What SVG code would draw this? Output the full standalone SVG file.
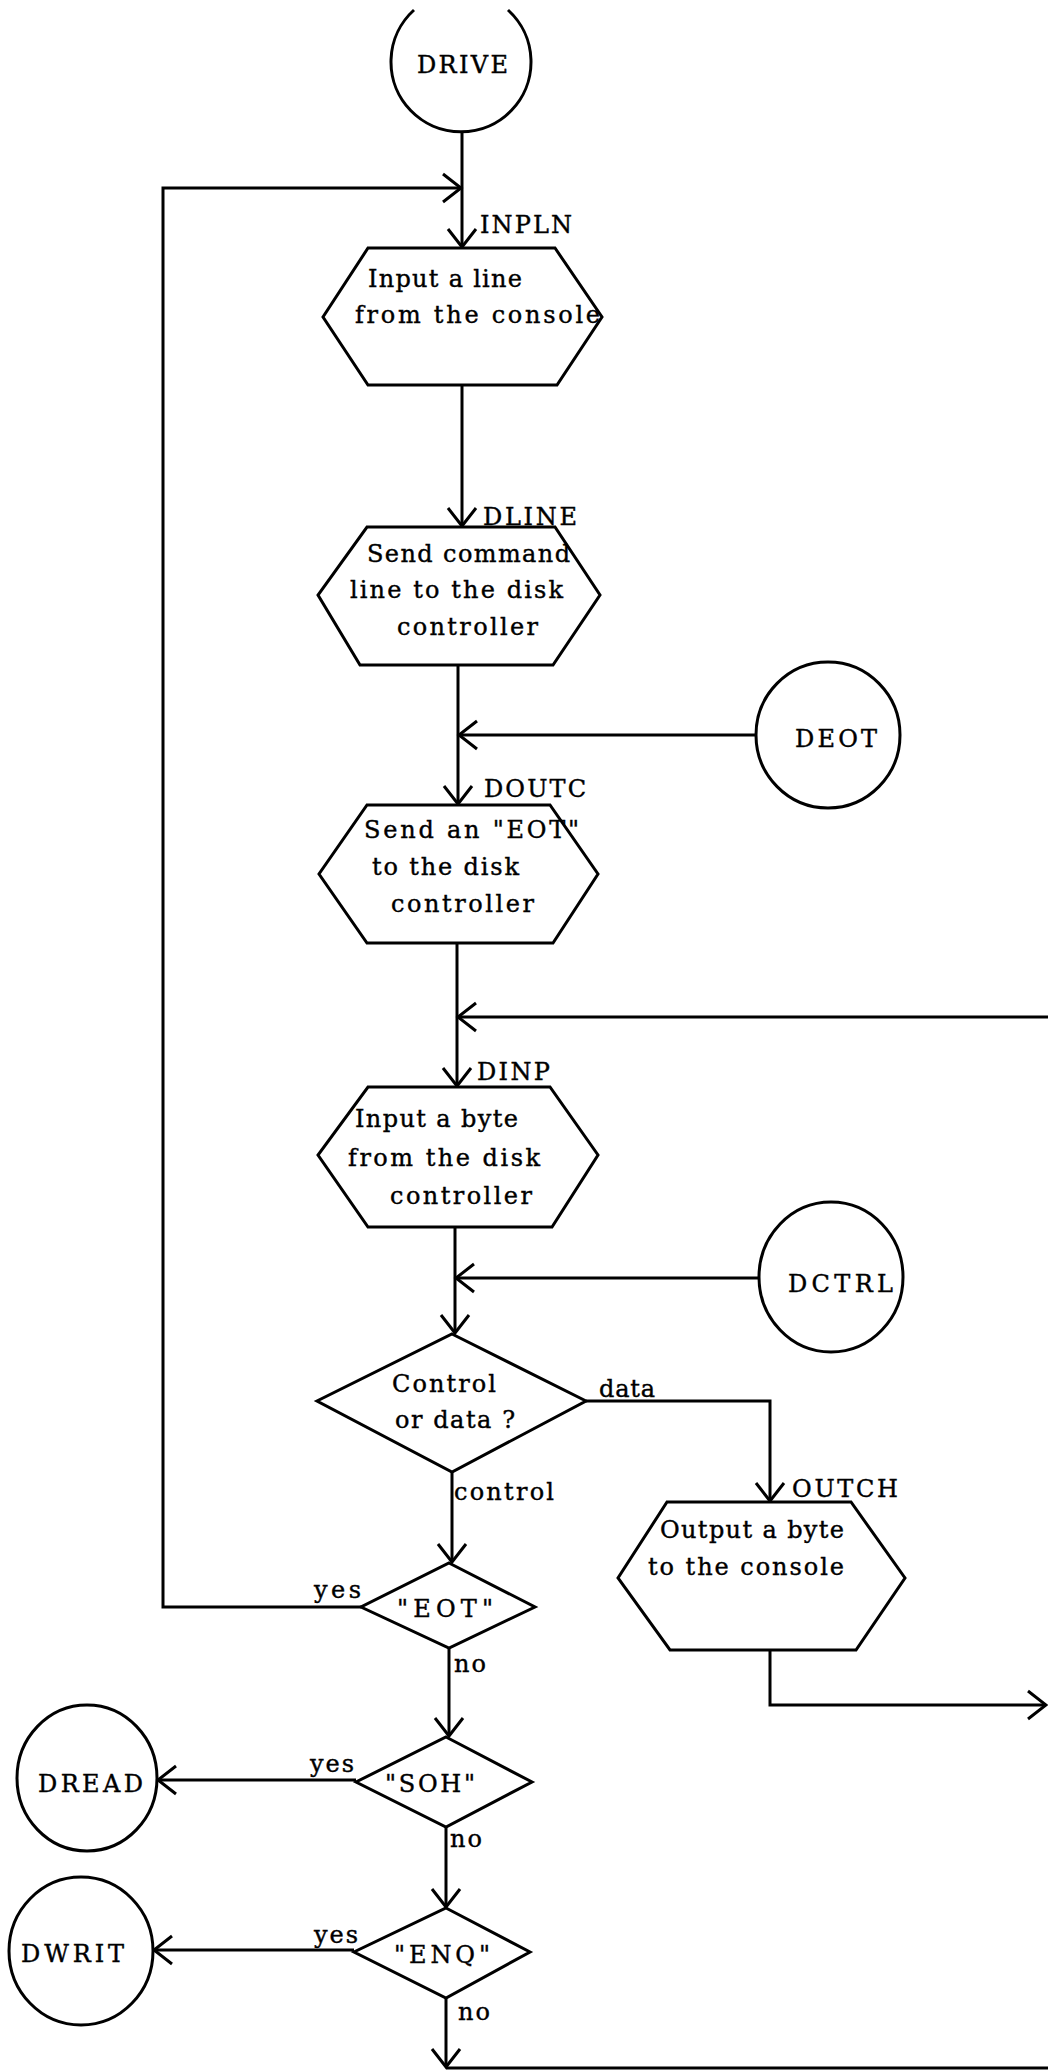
<svg xmlns="http://www.w3.org/2000/svg" width="1048" height="2072" viewBox="0 0 1048 2072">
<style>
.s{fill:#fff;stroke:#000;stroke-width:3;stroke-linejoin:miter}
.c{fill:none;stroke:#000;stroke-width:3}
text{font-family:"DejaVu Serif","Liberation Serif",serif;font-size:24px;fill:#000;stroke:#000;stroke-width:0.4}
</style>
<defs>
<marker id="ah" markerUnits="userSpaceOnUse" markerWidth="40" markerHeight="40" viewBox="-20 -20 40 40" refX="0" refY="0" orient="auto" overflow="visible">
<path d="M-18,-14 L0,0 L-18,14" fill="none" stroke="#000" stroke-width="3"/>
</marker>
</defs>
<rect width="1048" height="2072" fill="#fff"/>
<g id="connectors">
<path class="c" d="M462,132 V247" marker-end="url(#ah)"/>
<path class="c" d="M361,1607 H163 V188 H461" marker-end="url(#ah)"/>
<path class="c" d="M462,385 V526" marker-end="url(#ah)"/>
<path class="c" d="M458,665 V804" marker-end="url(#ah)"/>
<path class="c" d="M757,735 H459" marker-end="url(#ah)"/>
<path class="c" d="M457,943 V1086" marker-end="url(#ah)"/>
<path class="c" d="M1048,1017 H458" marker-end="url(#ah)"/>
<path class="c" d="M455,1227 V1333" marker-end="url(#ah)"/>
<path class="c" d="M759,1278 H456" marker-end="url(#ah)"/>
<path class="c" d="M452,1472 V1562" marker-end="url(#ah)"/>
<path class="c" d="M586,1401 H770 V1501" marker-end="url(#ah)"/>
<path class="c" d="M770,1650 V1705 H1046" marker-end="url(#ah)"/>
<path class="c" d="M449,1648 V1736" marker-end="url(#ah)"/>
<path class="c" d="M356,1780 H158" marker-end="url(#ah)"/>
<path class="c" d="M446,1827 V1907" marker-end="url(#ah)"/>
<path class="c" d="M354,1950 H154" marker-end="url(#ah)"/>
<path class="c" d="M446,1998 V2067" marker-end="url(#ah)"/>
<path class="c" d="M446,2068 H1048"/>
<text x="480" y="233" textLength="92">INPLN</text>
<text x="483" y="525" textLength="94">DLINE</text>
<text x="484" y="797" textLength="102">DOUTC</text>
<text x="477" y="1080" textLength="73">DINP</text>
<text x="599" y="1397" textLength="56">data</text>
<text x="454" y="1500" textLength="100">control</text>
<text x="792" y="1497" textLength="106">OUTCH</text>
<text x="314" y="1598" textLength="47">yes</text>
<text x="454" y="1672" textLength="32">no</text>
<text x="310" y="1772" textLength="44">yes</text>
<text x="450" y="1847" textLength="32">no</text>
<text x="314" y="1943" textLength="44">yes</text>
<text x="458" y="2020" textLength="32">no</text>
</g>
<g id="drive">
<path class="s" d="M414,10 A70,70 0 1 0 508,10"/>
<text x="417" y="73" textLength="91">DRIVE</text>
</g>
<g id="inpln">
<polygon class="s" points="368,248 555,248 602,317 557,385 368,385 323,317"/>
<text x="368" y="287" textLength="154">Input a line</text>
<text x="355" y="323" textLength="245">from the console</text>
</g>
<g id="dline">
<polygon class="s" points="367,527 555,527 600,595 553,665 360,665 318,595"/>
<text x="367" y="562" textLength="203">Send command</text>
<text x="350" y="598" textLength="213">line to the disk</text>
<text x="397" y="635" textLength="141">controller</text>
</g>
<g id="deot">
<ellipse class="s" cx="828" cy="735" rx="72" ry="73"/>
<text x="795" y="747" textLength="82">DEOT</text>
</g>
<g id="doutc">
<polygon class="s" points="367,805 550,805 598,874 553,943 367,943 319,874"/>
<text x="364" y="838" textLength="215">Send an "EOT"</text>
<text x="372" y="875" textLength="147">to the disk</text>
<text x="391" y="912" textLength="143">controller</text>
</g>
<g id="dinp">
<polygon class="s" points="368,1087 550,1087 598,1155 552,1227 368,1227 318,1155"/>
<text x="355" y="1127" textLength="163">Input a byte</text>
<text x="348" y="1166" textLength="192">from the disk</text>
<text x="390" y="1204" textLength="142">controller</text>
</g>
<g id="dctrl">
<ellipse class="s" cx="831" cy="1277" rx="72" ry="75"/>
<text x="788" y="1292" textLength="105">DCTRL</text>
</g>
<g id="control-or-data">
<polygon class="s" points="452,1334 586,1401 452,1472 317,1401"/>
<text x="392" y="1392" textLength="104">Control</text>
<text x="395" y="1428" textLength="120">or data ?</text>
</g>
<g id="outch">
<polygon class="s" points="667,1502 851,1502 905,1578 856,1650 670,1650 618,1578"/>
<text x="660" y="1538" textLength="184">Output a byte</text>
<text x="648" y="1575" textLength="196">to the console</text>
</g>
<g id="eot">
<polygon class="s" points="449,1563 535,1607 449,1648 361,1607"/>
<text x="397" y="1617" textLength="96">"EOT"</text>
</g>
<g id="soh">
<polygon class="s" points="446,1737 532,1782 446,1827 356,1782"/>
<text x="385" y="1792" textLength="90">"SOH"</text>
</g>
<g id="dread">
<ellipse class="s" cx="87" cy="1778" rx="70" ry="73"/>
<text x="38" y="1792" textLength="105">DREAD</text>
</g>
<g id="enq">
<polygon class="s" points="446,1908 530,1952 446,1998 354,1952"/>
<text x="394" y="1963" textLength="96">"ENQ"</text>
</g>
<g id="dwrit">
<ellipse class="s" cx="81" cy="1951" rx="72" ry="74"/>
<text x="21" y="1962" textLength="103">DWRIT</text>
</g>
</svg>
